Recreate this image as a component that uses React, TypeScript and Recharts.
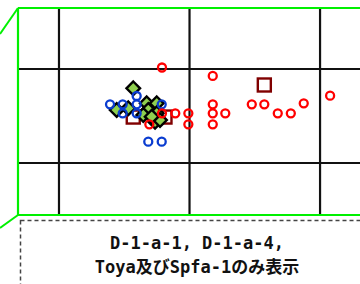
import React from "react";
import {
  ScatterChart,
  Scatter,
  XAxis,
  YAxis,
  ReferenceLine,
} from "recharts";

// Data (x, y in chart units; gridlines at x = 1,2,3 and y = 1,2)
const redCircles = [
  { x: 1.789, y: 2.016 },
  { x: 2.178, y: 1.926 },
  { x: 2.178, y: 1.624 },
  { x: 2.178, y: 1.529 },
  { x: 2.178, y: 1.412 },
  { x: 2.274, y: 1.529 },
  { x: 2.477, y: 1.624 },
  { x: 2.573, y: 1.624 },
  { x: 2.676, y: 1.529 },
  { x: 2.776, y: 1.529 },
  { x: 2.875, y: 1.635 },
  { x: 3.077, y: 1.716 },
  { x: 1.991, y: 1.529 },
  { x: 1.991, y: 1.412 },
  { x: 1.891, y: 1.529 },
  { x: 1.789, y: 1.529 },
  { x: 1.692, y: 1.412 },
];

const blueCircles = [
  { x: 1.391, y: 1.624 },
  { x: 1.488, y: 1.624 },
  { x: 1.595, y: 1.713 },
  { x: 1.595, y: 1.624 },
  { x: 1.595, y: 1.529 },
  { x: 1.488, y: 1.529 },
  { x: 1.787, y: 1.624 },
  { x: 1.684, y: 1.227 },
  { x: 1.787, y: 1.227 },
];

const greenDiamonds = [
  { x: 1.569, y: 1.795 },
  { x: 1.442, y: 1.564 },
  { x: 1.531, y: 1.582 },
  { x: 1.672, y: 1.635 },
  { x: 1.684, y: 1.564 },
  { x: 1.749, y: 1.635 },
  { x: 1.749, y: 1.529 },
  { x: 1.736, y: 1.439 },
  { x: 1.646, y: 1.511 },
  { x: 1.774, y: 1.457 },
  { x: 1.71, y: 1.493 },
];

const darkRedSquares = [
  { x: 2.573, y: 1.83 },
  { x: 1.569, y: 1.489 },
  { x: 1.812, y: 1.489 },
];

const xGrid = [1, 2, 3];
const yGrid = [1, 2];
const xDomain: [number, number] = [0.686, 3.306];
const yDomain: [number, number] = [0.447, 2.649];
const noteLines = ["D-1-a-1, D-1-a-4,", "Toya及びSpfa-1のみ表示"];

const GREEN = "#00f000";

const RedCircle = (p: any) => (
  <circle cx={p.cx} cy={p.cy} r={4} fill="none" stroke="#ff0000" strokeWidth={2.3} />
);
const BlueCircle = (p: any) => (
  <circle cx={p.cx} cy={p.cy} r={4} fill="none" stroke="#0a3cd0" strokeWidth={2.3} />
);
const Diamond = (p: any) => {
  const d = 6.8;
  return (
    <polygon
      points={`${p.cx},${p.cy - d} ${p.cx + d},${p.cy} ${p.cx},${p.cy + d} ${p.cx - d},${p.cy}`}
      fill="#8fcf4f"
      stroke="#000"
      strokeWidth={2.4}
      strokeLinejoin="miter"
    />
  );
};
const Square = (p: any) => {
  const s = 6.5;
  return (
    <rect
      x={p.cx - s}
      y={p.cy - s}
      width={2 * s}
      height={2 * s}
      fill="none"
      stroke="#800000"
      strokeWidth={2.4}
    />
  );
};

export default function App() {
  return (
    <div style={{ position: "absolute", left: 0, top: 0, width: 360, height: 284, overflow: "hidden", background: "#fff" }}>
      <ScatterChart width={360} height={284} margin={{ top: 8, right: 0, left: 18, bottom: 69 }}>
        <XAxis type="number" dataKey="x" domain={xDomain} hide allowDataOverflow />
        <YAxis type="number" dataKey="y" domain={yDomain} hide allowDataOverflow />
        {xGrid.map((v) => (
          <ReferenceLine key={"vx" + v} x={v} stroke="#111" strokeWidth={2.2} />
        ))}
        {yGrid.map((v) => (
          <ReferenceLine key={"hy" + v} y={v} stroke="#111" strokeWidth={2.2} />
        ))}
        <ReferenceLine y={yDomain[1]} stroke={GREEN} strokeWidth={2.2} />
        <ReferenceLine y={yDomain[0]} stroke={GREEN} strokeWidth={2.2} />
        <ReferenceLine x={xDomain[0]} stroke={GREEN} strokeWidth={2.2} />
        <ReferenceLine
          segment={[
            { x: xDomain[0], y: yDomain[1] },
            { x: 0.548, y: 2.372 },
          ]}
          stroke={GREEN}
          strokeWidth={2}
          ifOverflow="visible"
        />
        <ReferenceLine
          segment={[
            { x: xDomain[0], y: yDomain[0] },
            { x: 0.548, y: 0.3085 },
          ]}
          stroke={GREEN}
          strokeWidth={2}
          ifOverflow="visible"
        />
        <Scatter data={darkRedSquares} shape={Square} isAnimationActive={false} />
        <Scatter data={greenDiamonds} shape={Diamond} isAnimationActive={false} />
        <Scatter data={blueCircles} shape={BlueCircle} isAnimationActive={false} />
        <Scatter data={redCircles} shape={RedCircle} isAnimationActive={false} />
      </ScatterChart>
      <svg
        width={360}
        height={284}
        style={{ position: "absolute", left: 0, top: 0, pointerEvents: "none" }}
      >
        <rect
          x={20.5}
          y={220.5}
          width={400}
          height={120}
          fill="none"
          stroke="#444"
          strokeWidth={1.5}
          strokeDasharray="4 3"
        />
      </svg>
      <div
        style={{
          position: "absolute",
          left: 0,
          top: 231,
          width: 394,
          textAlign: "center",
          fontFamily: "'DejaVu Sans Mono', 'Noto Sans CJK JP', monospace",
          fontSize: 17,
          lineHeight: "24px",
          color: "#111",
          fontWeight: "bold",
        }}
      >
        {noteLines.map((l) => (
          <div key={l}>{l}</div>
        ))}
      </div>
    </div>
  );
}
